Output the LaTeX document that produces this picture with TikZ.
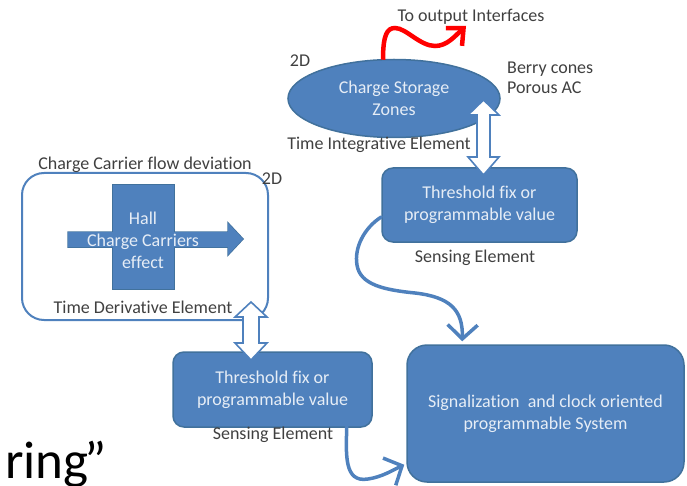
\documentclass[tikz,border=0pt]{standalone}
\usepackage{fontspec}
\setmainfont[RawFeature=-liga]{Carlito}
\usetikzlibrary{shapes.geometric,arrows.meta}
\definecolor{boxblue}{HTML}{4F81BD}
\definecolor{edgeblue}{HTML}{41719C}
\definecolor{labelgray}{HTML}{404040}
\definecolor{boxtext}{HTML}{E6EDF6}
\definecolor{flowred}{HTML}{FF0000}
\begin{document}
\begin{tikzpicture}[x=1pt,y=-1pt,
  lbl/.style={text=labelgray, font=\fontsize{18}{21}\selectfont, inner sep=0pt},
  blk/.style={rectangle, rounded corners=11pt, fill=boxblue, draw=edgeblue,
    line width=1.5pt, text=boxtext, font=\fontsize{18}{22}\selectfont,
    align=center, inner sep=0pt},
  hollow/.style={draw=boxblue, fill=white, line width=1.6pt, line join=miter},
  flow/.style={draw=boxblue, line width=3.5pt,
    -{Straight Barb[length=14pt,width=30pt,line width=3.5pt]}},
  redflow/.style={draw=flowred, line width=4.5pt,
    -{Straight Barb[length=13pt,width=24pt,line width=4.5pt]}}
]
\useasboundingbox (0,0) rectangle (687,486);
\clip (0,0) rectangle (687,486);

% ---- charge storage (top) ----
\node[ellipse, fill=boxblue, draw=edgeblue, line width=1.5pt,
      minimum width=212, minimum height=78, inner sep=0pt,
      text=boxtext, font=\fontsize{18}{22}\selectfont, align=center]
      (store) at (394,98.5) {Charge Storage\\Zones};
\node[lbl] (store2d) at (300,61) {2D};
\node[lbl, align=left, anchor=west, font=\fontsize{18}{20}\selectfont]
      (berry) at (507,78) {Berry cones\\Porous AC};
\node[lbl] (outlbl) at (471,17) {To output Interfaces};
\node[lbl] (integ) at (379,145) {Time Integrative Element};
\coordinate (outtip) at (466,26);

% ---- threshold / sensing (top right) ----
\node[blk, minimum width=195, minimum height=74] (tbox) at (479.5,205)
      {Threshold fix or\\programmable value};
\node[lbl] (tsense) at (475,258) {Sensing Element};

% ---- Hall element (left) ----
\node[draw=boxblue, line width=2pt, rounded corners=22pt,
      minimum width=246, minimum height=147, inner sep=0pt]
      (frame) at (145,246.5) {};
\node[lbl] (flowlbl) at (145,165) {Charge Carrier flow deviation};
\node[lbl] (frame2d) at (272,179) {2D};
\draw[edgeblue, line width=1.5pt] (113,185) rectangle (174,289);
\draw[edgeblue, line width=1.5pt]
  (68,232) -- (228,232) -- (228,223) -- (243,239) -- (228,255)
  -- (228,247) -- (68,247) -- cycle;
\fill[boxblue] (113,185) rectangle (174,289);
\fill[boxblue]
  (68,232) -- (228,232) -- (228,223) -- (243,239) -- (228,255)
  -- (228,247) -- (68,247) -- cycle;
\node[text=boxtext, font=\fontsize{18}{22}\selectfont, align=center,
      inner sep=0pt] (hall) at (143,240) {Hall\\Charge Carriers\\effect};
\node[lbl] (deriv) at (143,307) {Time Derivative Element};

% ---- threshold / sensing (bottom) ----
\node[blk, minimum width=199, minimum height=75] (bbox) at (272.5,389.5)
      {Threshold fix or\\programmable value};
\node[lbl] (bsense) at (273,435) {Sensing Element};

% ---- system block ----
\node[blk, rounded corners=20pt, minimum width=277, minimum height=137]
      (sys) at (545.5,413.5)
      {Signalization\ \ and clock oriented\\programmable System};

% ---- hollow double arrows ----
\draw[hollow] (483.5,100) -- (499,115) -- (490,115) -- (490,157)
  -- (499,157) -- (483.5,175) -- (468,157) -- (477,157) -- (477,115)
  -- (468,115) -- cycle;
\draw[hollow] (251,302) -- (267,317) -- (259,317) -- (259,343)
  -- (267,343) -- (251,360) -- (235,343) -- (243,343) -- (243,317)
  -- (235,317) -- cycle;

% ---- curved flows ----
\draw[redflow] ([xshift=-11pt,yshift=-1pt]store.north)
  .. controls (383,35) and (387,28) .. (395,28)
  .. controls (406,28) and (420,46) .. (435,46)
  .. controls (447,46) and (455,36) .. (outtip);
\draw[flow, line cap=round] ([yshift=-12pt]tbox.west)
  .. controls (364,228) and (354,248) .. (357,265)
  .. controls (360,285) and (385,290) .. (415,293)
  .. controls (450,297) and (463,310) .. ([xshift=56pt,yshift=3pt]sys.north west);
\draw[flow, line cap=round] ([xshift=-26pt,yshift=1pt]bbox.south east)
  .. controls (346,455) and (344,483) .. (368,479)
  .. controls (382,477) and (393,470) .. ([xshift=-2pt,yshift=18pt]sys.south west);

% ---- caption fragment ----
\node[anchor=base west, inner sep=0pt, text=black,
      font=\fontsize{53}{58}\selectfont] (frag) at (5,478) {ring\kern-4pt”};
\end{tikzpicture}
\end{document}
